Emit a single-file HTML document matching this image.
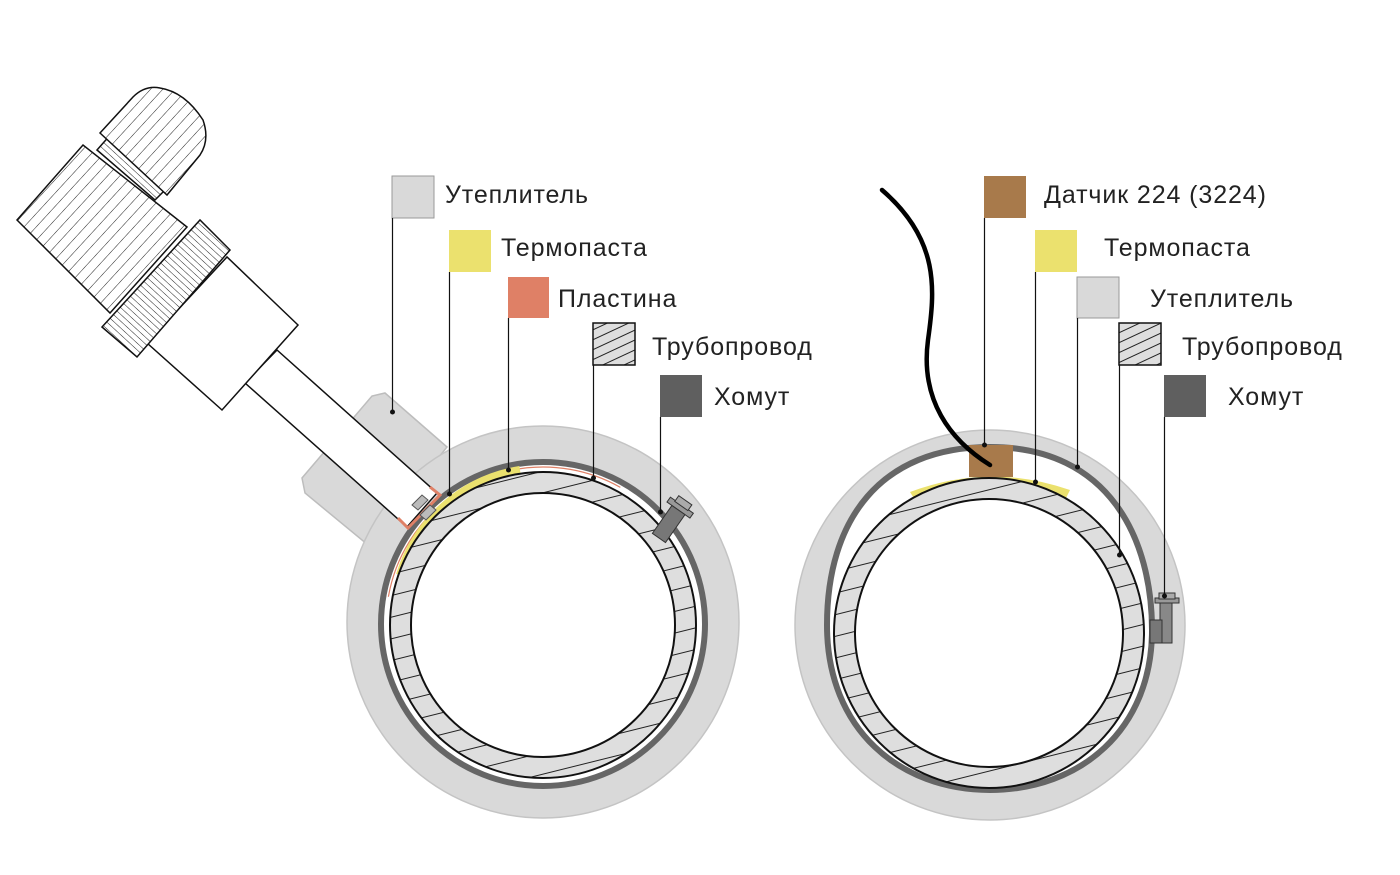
<!DOCTYPE html>
<html><head><meta charset="utf-8"><style>
html,body{margin:0;padding:0;background:#fff;}
svg{display:block;}
text{font-family:"Liberation Sans",sans-serif;font-size:25px;letter-spacing:0.9px;fill:#222;}
</style></head><body>
<svg width="1400" height="875" viewBox="0 0 1400 875" xmlns="http://www.w3.org/2000/svg">
<defs>
<pattern id="hatch" patternUnits="userSpaceOnUse" width="40" height="21" patternTransform="rotate(-14)">
<rect width="40" height="21" fill="#dedede"/>
<line x1="0" y1="0.5" x2="40" y2="0.5" stroke="#222" stroke-width="1.1"/>
</pattern>
<pattern id="hatchS" patternUnits="userSpaceOnUse" width="20" height="9" patternTransform="rotate(-25)">
<rect width="20" height="9" fill="#dedede"/>
<line x1="0" y1="0.5" x2="20" y2="0.5" stroke="#222" stroke-width="1"/>
</pattern>
<pattern id="knurl" patternUnits="userSpaceOnUse" width="5" height="5" patternTransform="rotate(-47.4)">
<rect width="5" height="5" fill="#fff"/>
<line x1="0" y1="0" x2="0" y2="5" stroke="#222" stroke-width="1"/>
</pattern>
<pattern id="rib" patternUnits="userSpaceOnUse" width="9" height="9" patternTransform="rotate(42.6)">
<rect width="9" height="9" fill="#fff"/>
<line x1="0" y1="0" x2="0" y2="9" stroke="#222" stroke-width="1"/>
</pattern>
</defs>

<!-- ===== LEFT ===== -->
<polygon points="447,447 385,393 372,396 302,478 305,493 368,545" fill="#d9d9d9" stroke="#bdbdbd" stroke-width="1.5"/>
<circle cx="543" cy="622" r="196" fill="#d9d9d9" stroke="#c4c4c4" stroke-width="1.5"/>
<circle cx="543" cy="624" r="162" fill="#fff" stroke="#666" stroke-width="6"/>
<circle cx="543" cy="624" r="157" fill="none" stroke="#df8066" stroke-width="1.2" stroke-dasharray="300 700" transform="rotate(190 543 624)"/>
<path d="M 400,575 A 150 150 0 0 1 520,470" fill="none" stroke="#ebe16e" stroke-width="8"/>
<circle cx="543" cy="625" r="153" fill="url(#hatch)" stroke="#111" stroke-width="2"/>
<circle cx="543" cy="625" r="132" fill="#fff" stroke="#111" stroke-width="2"/>

<!-- probe -->
<polygon points="245,383 277,350 437,493 407,527" fill="#fff" stroke="#111" stroke-width="1.5"/>
<path d="M 398,518 L 408,528 L 440,495 L 430,487" fill="none" stroke="#df8066" stroke-width="3"/>
<path d="M 412,505 l 10,-10 l 6,5 l -10,10 z M 420,515 l 10,-10 l 6,5 l -10,10 z" fill="#bbb" stroke="#555"/>
<polygon points="147,343 227,257 298,325 222,410" fill="#fff" stroke="#111" stroke-width="1.5"/>
<polygon points="102,327 200,220 230,250 137,357" fill="url(#knurl)" stroke="#111" stroke-width="1.5"/>
<polygon points="17,220 83,145 187,227 110,313" fill="url(#rib)" stroke="#111" stroke-width="1.5"/>
<polygon points="97,150 112,133 170,185 155,200" fill="url(#knurl)" stroke="#111" stroke-width="1.5"/>
<path d="M 100,133 L 133,97 Q 145,85 160,88 Q 185,92 203,120 Q 210,140 200,155 L 167,195 Z" fill="url(#rib)" stroke="#111" stroke-width="1.5"/>

<!-- clamp bolt left -->
<g transform="translate(675,515) rotate(35)">
<rect x="-14" y="-12" width="28" height="6" fill="#999" stroke="#333"/>
<rect x="-8" y="-18" width="16" height="7" fill="#aaa" stroke="#333"/>
<rect x="-8" y="-6" width="16" height="34" fill="#777" stroke="#333"/>
</g>

<!-- left legend -->
<rect x="392" y="176" width="42" height="42" fill="#d9d9d9" stroke="#999"/>
<text x="445" y="203">Утеплитель</text>
<rect x="449" y="230" width="42" height="42" fill="#ebe16e"/>
<text x="501" y="256">Термопаста</text>
<rect x="508" y="277" width="41" height="41" fill="#df8066"/>
<text x="558" y="307">Пластина</text>
<rect x="593" y="323" width="42" height="42" fill="url(#hatchS)" stroke="#111" stroke-width="1.5"/>
<text x="652" y="355">Трубопровод</text>
<rect x="660" y="375" width="42" height="42" fill="#5f5f5f"/>
<text x="714" y="405">Хомут</text>
<g stroke="#111" stroke-width="1.2">
<line x1="392.5" y1="218" x2="392.5" y2="412"/>
<line x1="449.5" y1="272" x2="449.5" y2="494"/>
<line x1="508.5" y1="318" x2="508.5" y2="470"/>
<line x1="593.5" y1="365" x2="593.5" y2="478"/>
<line x1="660.5" y1="417" x2="660.5" y2="512"/>
</g>
<g fill="#111"><circle cx="392.5" cy="412" r="2.5"/><circle cx="449.5" cy="494" r="2.5"/><circle cx="508.5" cy="470" r="2.5"/><circle cx="593.5" cy="478" r="2.5"/><circle cx="660.5" cy="512" r="2.5"/></g>

<!-- ===== RIGHT ===== -->
<circle cx="990" cy="625" r="195" fill="#d9d9d9" stroke="#c4c4c4" stroke-width="1.5"/>
<path d="M 990,447 C 1110,447 1152,540 1152,630 C 1152,730 1080,790 990,790 C 900,790 827,730 827,625 C 827,520 880,447 990,447 Z" fill="#fff" stroke="#666" stroke-width="6"/>
<path d="M 910,492 Q 990,462 1070,490 L 1065,500 Q 990,478 915,500 Z" fill="#ebe16e"/>
<circle cx="989" cy="633" r="155" fill="url(#hatch)" stroke="#111" stroke-width="2"/>
<circle cx="989" cy="633" r="134" fill="#fff" stroke="#111" stroke-width="2"/>
<rect x="969" y="445" width="44" height="32" fill="#a87a4b"/>
<path d="M 882,190 C 940,240 935,290 928,340 C 920,400 950,440 990,465" fill="none" stroke="#000" stroke-width="4.5" stroke-linecap="round"/>
<!-- clamp bolt right -->
<rect x="1155" y="598" width="24" height="5" fill="#999" stroke="#333"/>
<rect x="1159" y="593" width="16" height="6" fill="#aaa" stroke="#333"/>
<rect x="1160" y="603" width="12" height="40" fill="#888" stroke="#333"/>
<rect x="1150" y="620" width="12" height="23" fill="#777" stroke="#333"/>

<!-- right legend -->
<rect x="984" y="176" width="42" height="42" fill="#a87a4b"/>
<text x="1044" y="203">Датчик 224 (3224)</text>
<rect x="1035" y="230" width="42" height="42" fill="#ebe16e"/>
<text x="1104" y="256">Термопаста</text>
<rect x="1077" y="277" width="42" height="41" fill="#d9d9d9" stroke="#999"/>
<text x="1150" y="307">Утеплитель</text>
<rect x="1119" y="323" width="42" height="42" fill="url(#hatchS)" stroke="#111" stroke-width="1.5"/>
<text x="1182" y="355">Трубопровод</text>
<rect x="1164" y="375" width="42" height="42" fill="#5f5f5f"/>
<text x="1228" y="405">Хомут</text>
<g stroke="#111" stroke-width="1.2">
<line x1="984.5" y1="218" x2="984.5" y2="445"/>
<line x1="1035.5" y1="272" x2="1035.5" y2="482"/>
<line x1="1077.5" y1="318" x2="1077.5" y2="467"/>
<line x1="1119.5" y1="365" x2="1119.5" y2="555"/>
<line x1="1164.5" y1="417" x2="1164.5" y2="596"/>
</g>
<g fill="#111"><circle cx="984.5" cy="445" r="2.5"/><circle cx="1035.5" cy="482" r="2.5"/><circle cx="1077.5" cy="467" r="2.5"/><circle cx="1119.5" cy="555" r="2.5"/><circle cx="1164.5" cy="596" r="2.5"/></g>
</svg>
</body></html>
